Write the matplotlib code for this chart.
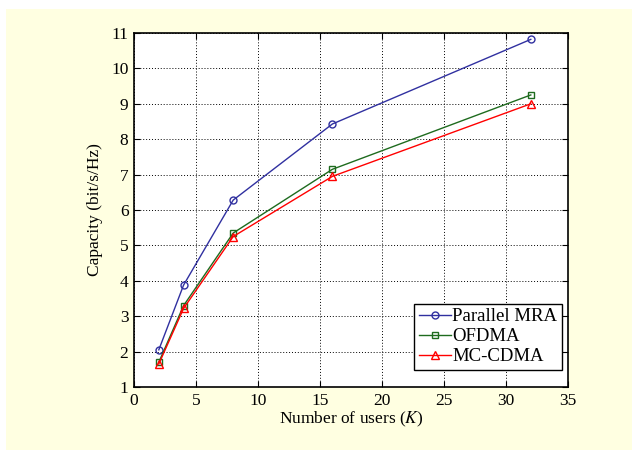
import matplotlib
matplotlib.use("Agg")
import matplotlib.pyplot as plt
from matplotlib.patches import Rectangle

users = [2, 4, 8, 16, 32]
parallel_mra = [2.05, 3.88, 6.28, 8.43, 10.82]
ofdma = [1.70, 3.30, 5.35, 7.15, 9.25]
mc_cdma = [1.65, 3.22, 5.25, 6.95, 9.00]
xticks = [0, 5, 10, 15, 20, 25, 30, 35]
yticks = list(range(1, 12))

plt.rcParams['font.family'] = ['Liberation Serif', 'DejaVu Serif']
plt.rcParams['mathtext.fontset'] = 'stix'

fig = plt.figure(figsize=(6.32, 4.5), dpi=100)
fig.patch.set_facecolor('white')
fig.patches.append(Rectangle((6/632, 0), 1 - 6/632, 1 - 9/450, transform=fig.transFigure,
                             facecolor='#FFFFE1', edgecolor='none', zorder=-10))

L, R, T, B = 134, 568, 33, 387
ax = fig.add_axes([L/632, 1 - B/450, (R-L)/632, (B-T)/450])
ax.set_facecolor('white')

ax.plot(users, parallel_mra, color='#3030A0', lw=1, marker='o', ms=5, mfc='none', mew=1, label='Parallel MRA')
ax.plot(users, ofdma, color='#1E6B1E', lw=1, marker='s', ms=4, mfc='none', mew=1, label='OFDMA')
ax.plot(users, mc_cdma, color='#FF0000', lw=1, marker='^', ms=5.5, mfc='none', mew=1, label='MC-CDMA')

ax.set_xlim(0, 35)
ax.set_ylim(1, 11)
ax.set_xticks(xticks)
ax.set_yticks(yticks)
ax.tick_params(direction='in', labelsize=12.5, top=True, right=True, length=4, pad=4)
ax.grid(True, color='black', linestyle=(0, (1, 2)), lw=0.7)
for s in ax.spines.values():
    s.set_linewidth(1.2)

ax.set_xlabel('Number of users ($K$)', fontsize=12.5, labelpad=1)
ax.set_ylabel('Capacity (bit/s/Hz)', fontsize=12.5, labelpad=6)

leg = ax.legend(loc='lower right', fontsize=13.5, frameon=True, fancybox=False,
                edgecolor='black', framealpha=1, borderpad=0.25, labelspacing=0.15,
                handlelength=1.7, handletextpad=0.08, borderaxespad=0,
                bbox_to_anchor=(1.0 - 6/(R-L), 17/(B-T)))
leg.get_frame().set_linewidth(1)

fig.savefig('out.png', dpi=100, facecolor=fig.get_facecolor())
